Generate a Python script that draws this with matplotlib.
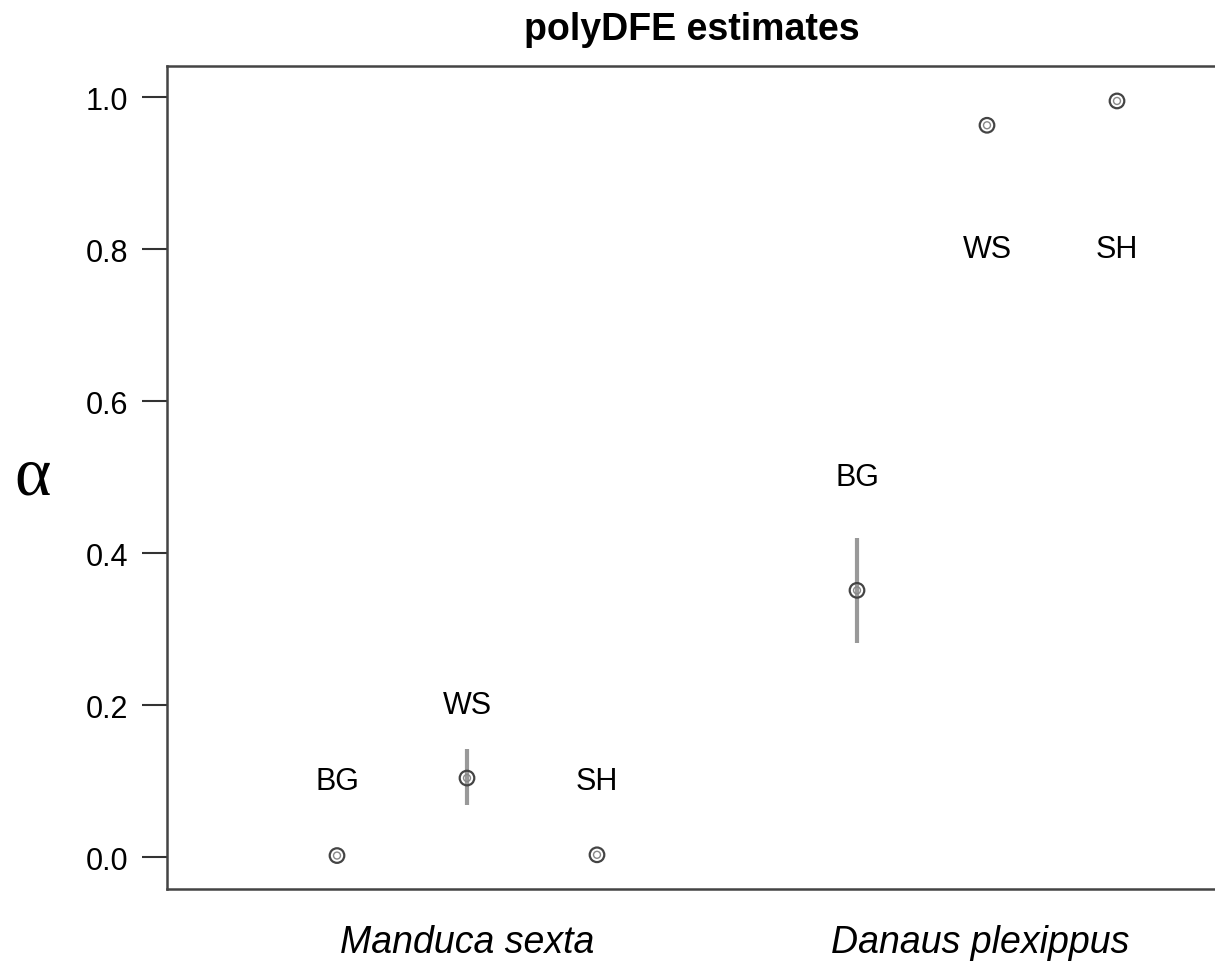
import matplotlib
matplotlib.use("Agg")
import matplotlib.pyplot as plt

# data
xpos = [1, 2, 3, 5, 6, 7]
labels = ["BG", "WS", "SH", "BG", "WS", "SH"]
alpha = [0.002, 0.104, 0.003, 0.351, 0.963, 0.995]
lower = [0.002, 0.068, 0.003, 0.282, 0.963, 0.995]
upper = [0.002, 0.142, 0.003, 0.420, 0.963, 0.995]
label_y = [0.1, 0.2, 0.1, 0.5, 0.8, 0.8]
species = ["Manduca sexta", "Danaus plexippus"]
species_x = [2, 5.95]
yticks = [0.0, 0.2, 0.4, 0.6, 0.8, 1.0]

plt.rcParams['font.family'] = ['Liberation Sans', 'DejaVu Sans']

fig = plt.figure(figsize=(12.15, 9.62), dpi=100)
ax = fig.add_axes([167/1215, 1-890/962, (1222-167)/1215, (890-67)/962])

ax.vlines(xpos, lower, upper, color='#999999', linewidth=3, zorder=2)
ax.scatter(xpos, alpha, s=110, facecolors='none', edgecolors='#444444', linewidths=1.6, zorder=3)
ax.scatter(xpos, alpha, s=25, facecolors='none', edgecolors='#888888', linewidths=1.0, zorder=3)

for x, ly, t in zip(xpos, label_y, labels):
    ax.text(x, ly, t, ha='center', va='center', fontsize=22)

ax.set_xlim(1 - 170/130, 1 + (1222-337)/130)
ax.set_ylim(-0.042, 1.041)
ax.set_xticks([])
ax.set_yticks(yticks)
ax.set_yticklabels([f"{v:.1f}" for v in yticks], fontsize=22)
ax.tick_params(axis='y', length=18, width=1.5, pad=10, color='#333333')
for s in ax.spines.values():
    s.set_linewidth(1.8)
    s.set_color('#444444')

for x, name in zip(species_x, species):
    ax.text(x, -0.112, name, ha='center', va='center', fontsize=27, style='italic',
            transform=ax.transData, clip_on=False)

fig.text(692/1215, 1-30/962, "polyDFE estimates", ha='center', va='center',
         fontsize=27, fontweight='bold')
fig.text(33/1215, 1-478/962, "α", ha='center', va='center', fontsize=50,
         family=['Liberation Serif', 'DejaVu Serif'])

fig.savefig("out.png", dpi=100)
